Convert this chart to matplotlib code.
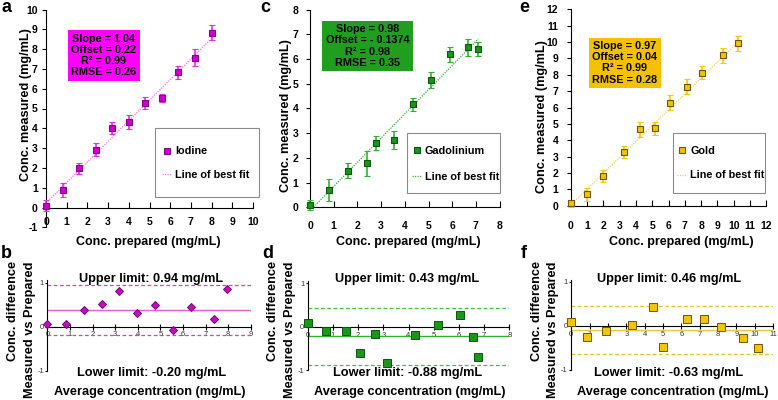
import matplotlib
matplotlib.use('Agg')
import matplotlib.pyplot as plt
from matplotlib.lines import Line2D
from matplotlib.patches import Rectangle
import numpy as np

plt.rcParams['font.family'] = ['Liberation Sans', 'DejaVu Sans']

# ---------------- data ----------------
iod_prep = [0, 0.8, 1.6, 2.4, 3.2, 4.0, 4.8, 5.6, 6.4, 7.2, 8.0]
iod_meas = [0.1, 0.88, 1.98, 2.92, 4.0, 4.3, 5.27, 5.52, 6.83, 7.57, 8.83]
iod_err = [0.3, 0.34, 0.29, 0.32, 0.3, 0.35, 0.3, 0.2, 0.34, 0.42, 0.38]
iod_fit = (1.04, 0.22)
iod_stats = ["Slope = 1.04", "Offset = 0.22", "R\u00b2 = 0.99", "RMSE = 0.26"]

gad_prep = [0, 0.82, 1.59, 2.39, 2.77, 3.56, 4.36, 5.1, 5.9, 6.68, 7.1]
gad_meas = [0.1, 0.70, 1.48, 1.78, 2.59, 2.72, 4.17, 5.15, 6.19, 6.48, 6.42]
gad_err = [0.2, 0.44, 0.3, 0.5, 0.28, 0.37, 0.27, 0.34, 0.32, 0.34, 0.29]
gad_fit = (0.98, -0.1374)
gad_stats = ["Slope = 0.98", "Offset = - 0.1374", "R\u00b2 = 0.98", "RMSE = 0.35"]

gold_prep = [0, 1.02, 1.98, 3.27, 4.23, 5.19, 6.11, 7.13, 8.07, 9.32, 10.26]
gold_meas = [0.15, 0.69, 1.83, 3.26, 4.67, 4.73, 6.3, 7.27, 8.13, 9.19, 9.92]
gold_err = [0.2, 0.41, 0.36, 0.36, 0.46, 0.41, 0.46, 0.45, 0.41, 0.44, 0.45]
gold_fit = (0.97, 0.04)
gold_stats = ["Slope = 0.97", "Offset = 0.04", "R\u00b2 = 0.99", "RMSE = 0.28"]

iod_avg = [0, 0.82, 1.62, 2.4, 3.18, 3.97, 4.76, 5.55, 6.35, 7.37, 7.96]
iod_diff = [0.05, 0.06, 0.38, 0.52, 0.80, 0.30, 0.48, -0.08, 0.44, 0.17, 0.85]
iod_limits = (0.94, -0.20)

gad_avg = [0, 0.73, 1.52, 2.08, 2.67, 3.13, 4.26, 5.16, 6.04, 6.57, 6.74]
gad_diff = [0.09, -0.09, -0.10, -0.60, -0.17, -0.83, -0.18, 0.05, 0.28, -0.23, -0.69]
gad_limits = (0.43, -0.88)

gold_avg = [0, 0.86, 1.91, 3.32, 4.46, 5.01, 6.29, 7.25, 8.14, 9.34, 10.16]
gold_diff = [0.09, -0.25, -0.12, 0.02, 0.44, -0.47, 0.15, 0.15, -0.02, -0.28, -0.51]
gold_limits = (0.46, -0.63)

# ---------------- layout helpers ----------------
W, H = 778, 400
fig = plt.figure(figsize=(W / 100, H / 100), dpi=100)


def rect(x0, x1, yb, yt):
    return [x0 / W, 1 - yb / H, (x1 - x0) / W, (yb - yt) / H]


def ftext(x, y, s, **kw):
    return fig.text(x / W, 1 - y / H, s, **kw)


LEG_FS = 7.8


def top_panel(r, xmax, ylo, ymax, prep, meas, err, fit, stats, cols, label,
              box_c, leg_box, leg_mark, leg_rows, xpad, ypad):
    fill, edge, ecol, lcol, boxc = cols
    ax = fig.add_axes(r)
    ax.set_xlim(0, xmax)
    ax.set_ylim(ylo, ymax)
    for s in ['top', 'right']:
        ax.spines[s].set_visible(False)
    ax.spines['bottom'].set_position(('data', 0))
    ax.patch.set_alpha(0)
    xt = list(range(0, xmax + 1))
    yt = list(range(ylo, ymax + 1))
    ax.set_xticks(xt, [str(v) for v in xt], fontsize=7.5, fontweight='bold')
    ax.set_yticks(yt, [str(v) for v in yt], fontsize=7.5, fontweight='bold')
    ax.tick_params(axis='x', direction='in', length=4, width=0.8, pad=xpad)
    ax.tick_params(axis='y', direction='out', length=3, width=0.8, pad=ypad)
    xs = np.array([0, max(prep)])
    ax.plot(xs, fit[0] * xs + fit[1], ls=(0, (1, 1)), color=lcol, lw=0.9)
    cont = ax.errorbar(prep, meas, yerr=err, fmt='s', ms=4.6, mfc=fill, mec=edge,
                       mew=0.8, ecolor=ecol, elinewidth=1.2, capsize=2.0,
                       capthick=1.1, zorder=3)
    for a in cont.get_children():
        a.set_clip_on(False)
    cont.lines[0].set_clip_on(False)
    ftext(box_c[0], box_c[1], "\n".join(stats), ha='center', va='center',
          fontsize=7.8, fontweight='bold', linespacing=1.15,
          bbox=dict(boxstyle='square,pad=0.3', fc=boxc, ec='none'))
    # legend frame
    x0, y0, x1, y1 = leg_box
    fig.add_artist(Rectangle((x0 / W, 1 - y1 / H), (x1 - x0) / W, (y1 - y0) / H,
                             transform=fig.transFigure, fc='white', ec='#8a8a8a',
                             lw=0.8, zorder=-1))
    handles = [Line2D([], [], marker='s', ls='none', ms=4.6, mfc=fill, mec=edge, mew=0.8),
               Line2D([], [], ls=(0, (1, 1)), color=lcol, lw=0.9)]
    hl = 0.9
    hl_px = hl * LEG_FS * 100 / 72
    r1, r2 = leg_rows
    row_px = LEG_FS * 100 / 72 * 1.17
    ls = ((r2 - r1) - row_px) / (LEG_FS * 100 / 72)
    ax.legend(handles, [label, 'Line of best fit'], loc='center left',
              bbox_to_anchor=((leg_mark - hl_px / 2) / W, 1 - (r1 + r2) / 2 / H),
              bbox_transform=fig.transFigure, borderaxespad=0, borderpad=0,
              prop=dict(weight='bold', size=LEG_FS), frameon=False,
              handlelength=hl, handletextpad=0.3, labelspacing=ls)
    return ax


def bottom_panel(r, xmax, avg, diff, limits, cols, marker, ms):
    fill, edge, dcol, mcol = cols
    ax = fig.add_axes(r)
    ax.set_xlim(0, xmax)
    ax.set_ylim(-1.1, 1.1)
    for s in ['top', 'right']:
        ax.spines[s].set_visible(False)
    ax.spines['bottom'].set_position(('data', 0))
    ax.spines['left'].set_bounds(-1, 1.05)
    ax.patch.set_alpha(0)
    xt = list(range(0, xmax + 1))
    ax.set_xticks(xt, [str(v) for v in xt], fontsize=5.5, color='#333333')
    ax.set_yticks([-1, 0, 1], ['-1', '0', '1'], fontsize=5.5, color='#333333')
    ax.tick_params(axis='x', direction='inout', length=4, width=0.8, pad=1.5)
    ax.tick_params(axis='y', direction='out', length=1.5, width=0.8, pad=1)
    up, lo = limits
    mean = (up + lo) / 2
    xs = [0, xmax]
    ax.plot(xs, [up, up], ls=(0, (3, 2)), color=dcol, lw=0.9)
    ax.plot(xs, [lo, lo], ls=(0, (3, 2)), color=dcol, lw=0.9)
    ax.plot(xs, [mean, mean], ls='-', color=mcol, lw=1.0)
    ax.plot(avg, diff, ls='none', marker=marker, ms=ms, mfc=fill, mec=edge,
            mew=0.7, clip_on=False, zorder=4)
    return ax


# colours
mag = ('#cc00cc', '#8a008a', '#e030e0', '#f070f0', '#ff00ff')
grn = ('#1a961a', '#0c550c', '#33b033', '#33b033', '#1f9e1f')
gld = ('#f2c200', '#6e5500', '#f5c800', '#f5d050', '#f5c000')

# ---------------- top panels ----------------
top_panel(rect(46, 253, 227.3, 9.5), 10, -1, 10, iod_prep, iod_meas, iod_err,
          iod_fit, iod_stats, mag, 'Iodine', (104, 55.5),
          (155, 128, 259, 197), 167, (150, 176), 7, 3)
top_panel(rect(310, 499.6, 207.3, 9.7), 8, 0, 8, gad_prep, gad_meas, gad_err,
          gad_fit, gad_stats, grn, 'Gadolinium', (367.5, 46),
          (406.7, 132.7, 500, 192.7), 416.7, (149.3, 178.3), 10, 5.5)
top_panel(rect(570.7, 766.3, 205.7, 9.4), 12, 0, 12, gold_prep, gold_meas, gold_err,
          gold_fit, gold_stats, gld, 'Gold', (625, 62.8),
          (673, 133.3, 765, 192.7), 682, (149.3, 176.7), 11, 6)

# ---------------- bottom panels ----------------
bottom_panel(rect(47.4, 250.8, 374.9, 278.1), 9, iod_avg, iod_diff, iod_limits,
             ('#c010c0', '#7a007a', '#d040d0', '#e060e0'), 'D', 4.0)
bottom_panel(rect(307.7, 509.3, 374.6, 278.8), 8, gad_avg, gad_diff, gad_limits,
             ('#1a961a', '#0c550c', '#40c040', '#30b030'), 's', 5.2)
bottom_panel(rect(571.3, 773, 374.4, 277.6), 11, gold_avg, gold_diff, gold_limits,
             ('#f5c400', '#6e5500', '#e8c020', '#e8c840'), 's', 5.8)

# ---------------- texts ----------------
for x, s in [(6, 'a'), (265, 'c'), (524, 'e')]:
    ftext(x, 7, s, ha='center', va='center', fontsize=13, fontweight='bold')
for x, s in [(6, 'b'), (268, 'd'), (524, 'f')]:
    ftext(x, 254, s, ha='center', va='center', fontsize=13, fontweight='bold')

for x, y in [(26, 105), (285.5, 116), (542, 117)]:
    ftext(x, y, 'Conc. measured (mg/mL)', rotation=90, ha='center', va='center',
          fontsize=9.2, fontweight='bold')
for x in [148, 408, 681]:
    ftext(x, 242, 'Conc. prepared (mg/mL)', ha='center', va='center',
          fontsize=9, fontweight='bold')

for x in [21.5, 281.5, 545]:
    ftext(x, 261, 'Conc. difference\nMeasured vs Prepared', rotation=90,
          ha='center', va='top', multialignment='right', fontsize=9.2,
          fontweight='bold', linespacing=1.5)
for x in [150, 410, 673]:
    ftext(x, 392.5, 'Average concentration (mg/mL)', ha='center', va='center',
          fontsize=9.2, fontweight='bold')

for x, lim in [(151.5, iod_limits), (407.5, gad_limits), (669, gold_limits)]:
    ftext(x, 279, 'Upper limit: %.2f mg/mL' % lim[0], ha='center', va='center',
          fontsize=9.2, fontweight='bold')
    ftext(x, 372.7, 'Lower limit: %.2f mg/mL' % lim[1], ha='center', va='center',
          fontsize=9.2, fontweight='bold')

fig.savefig('out.png', dpi=100)
